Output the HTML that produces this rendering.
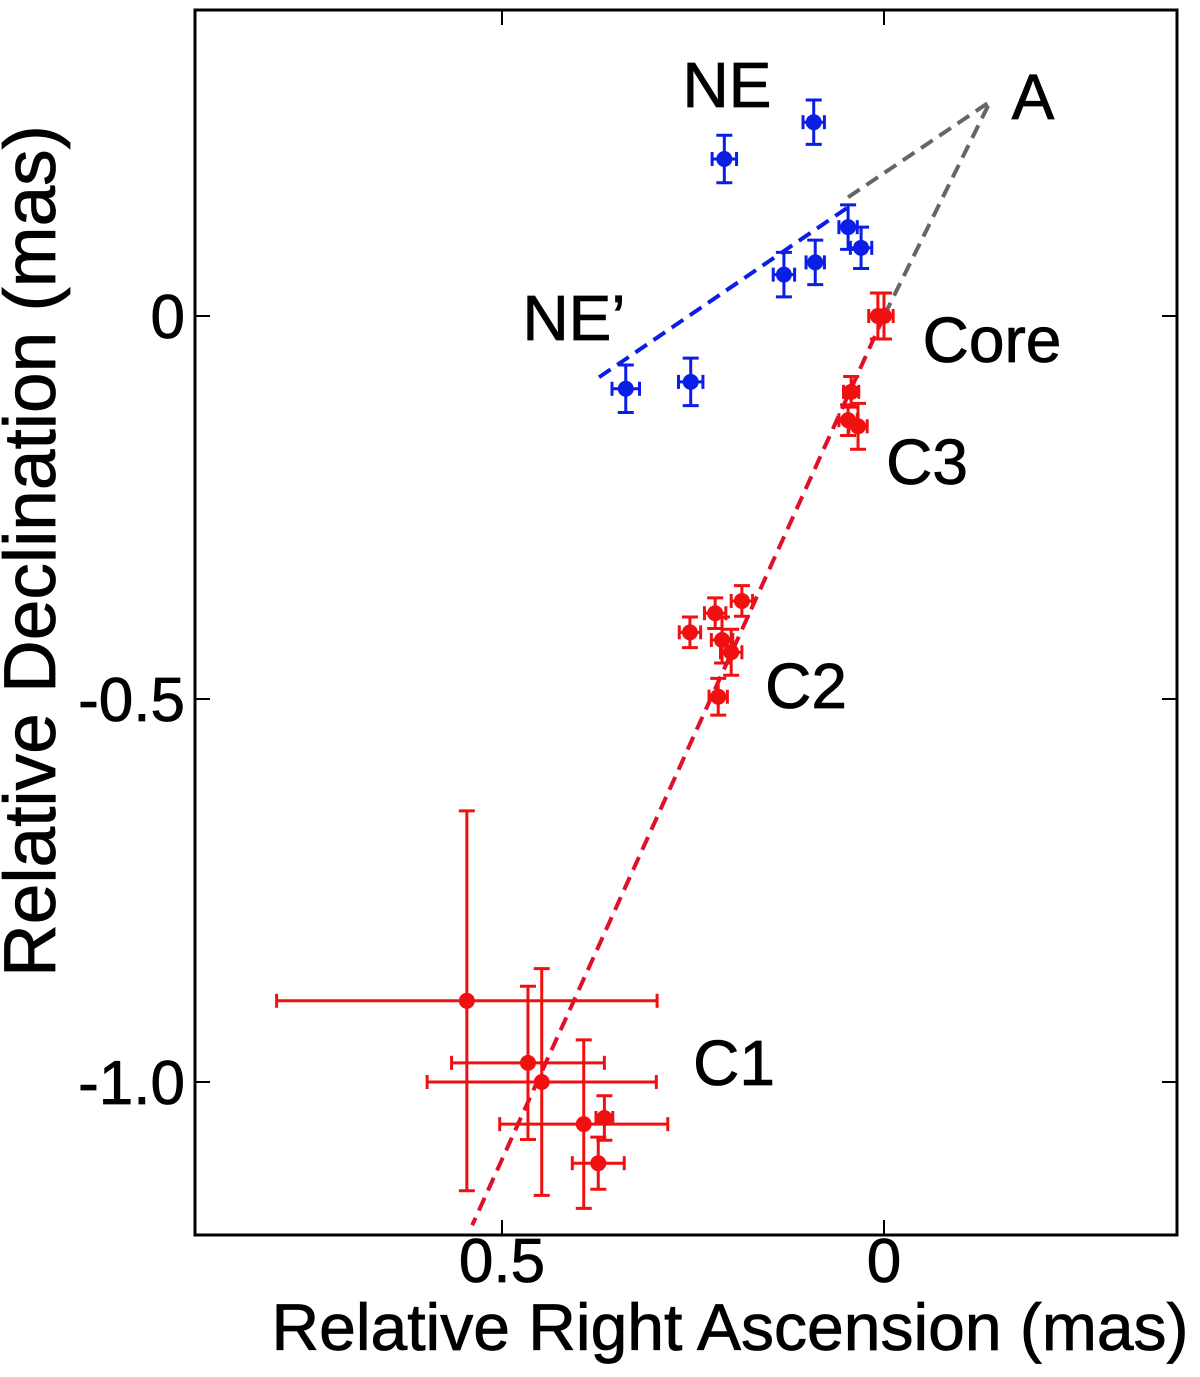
<!DOCTYPE html>
<html><head><meta charset="utf-8"><style>
html,body{margin:0;padding:0;background:#fff;}
svg{display:block;font-family:"Liberation Sans",Arial,sans-serif;}
</style></head><body>
<svg id="chart" width="1200" height="1377" viewBox="0 0 1200 1377">
<rect x="195" y="10" width="982" height="1225" fill="none" stroke="#000" stroke-width="3"/>
<g id="ticks"></g>
<g id="lines"></g>
<g id="marks"></g>
<g font-size="64" text-anchor="middle" stroke="#000" stroke-width="0.8">
<text x="727" y="107">NE</text>
<text x="1033" y="119">A</text>
<text x="574" y="340">NE’</text>
<text x="992" y="362">Core</text>
<text x="927" y="484">C3</text>
<text x="806" y="708">C2</text>
<text x="734" y="1085">C1</text>
<text x="730" y="1350" font-size="66">Relative Right Ascension (mas)</text>
<text transform="translate(55,551) rotate(-90)" font-size="73">Relative Declination (mas)</text>
</g>
</svg>
<script>
const xTicks = [0.5, 0];
const xTickLabels = ["0.5", "0"];
const yTicks = [0, -0.5, -1.0];
const yTickLabels = ["0", "-0.5", "-1.0"];
const blueRa  = [0.209, 0.092, 0.047, 0.030, 0.090, 0.131, 0.253, 0.338];
const blueDec = [0.205, 0.253, 0.116, 0.089, 0.070, 0.054, -0.086, -0.095];
const blueRaErr  = [0.016, 0.014, 0.012, 0.014, 0.012, 0.014, 0.016, 0.018];
const blueDecErr = [0.031, 0.029, 0.029, 0.027, 0.029, 0.029, 0.031, 0.031];
const redRa  = [0.0, 0.008, 0.043, 0.047, 0.034, 0.186, 0.221, 0.254, 0.212, 0.200, 0.217, 0.546, 0.466, 0.448, 0.393, 0.366, 0.374];
const redDec = [0.0, 0.0, -0.099, -0.136, -0.144, -0.372, -0.388, -0.413, -0.423, -0.439, -0.497, -0.894, -0.975, -1.0, -1.055, -1.047, -1.106];
const redRaErr  = [0.012, 0.012, 0.010, 0.012, 0.012, 0.014, 0.014, 0.014, 0.014, 0.014, 0.012, 0.249, 0.1, 0.15, 0.11, 0.011, 0.034];
const redDecErr = [0.03, 0.03, 0.02, 0.02, 0.03, 0.02, 0.02, 0.02, 0.03, 0.03, 0.024, 0.248, 0.1, 0.148, 0.11, 0.029, 0.034];
const redLineRa = [0.0, 0.539];
const redLineDec = [0.0, -1.187];
const blueLineRa = [0.373, 0.047];
const blueLineDec = [-0.08, 0.142];
const grayLineRa = [0.047, -0.139, 0.0];
const grayLineDec = [0.155, 0.280, 0.0];

const NS = "http://www.w3.org/2000/svg";
const X = ra => 884 - 764 * ra;
const Y = d => 316 - 766 * d;
function mk(tag, attrs, parent) {
  const e = document.createElementNS(NS, tag);
  for (const k in attrs) e.setAttribute(k, attrs[k]);
  parent.appendChild(e);
  return e;
}
const ticks = document.getElementById('ticks');
xTicks.forEach((t, i) => {
  const l1 = mk('line', {x1: X(t), x2: X(t), y1: 1235, y2: 1220, stroke: '#000', 'stroke-width': 2}, ticks);
  
  
  const l2 = mk('line', {x1: X(t), x2: X(t), y1: 10, y2: 25, stroke: '#000', 'stroke-width': 2}, ticks);
  
  
  const tx = mk('text', {x: X(t), y: 1282, 'font-size': 62, 'text-anchor': 'middle', stroke: '#000', 'stroke-width': 0.8}, ticks);
  tx.textContent = xTickLabels[i];
  
  
});
yTicks.forEach((t, i) => {
  const l1 = mk('line', {x1: 195, x2: 210, y1: Y(t), y2: Y(t), stroke: '#000', 'stroke-width': 2}, ticks);
  
  
  const l2 = mk('line', {x1: 1162, x2: 1177, y1: Y(t), y2: Y(t), stroke: '#000', 'stroke-width': 2}, ticks);
  
  
  const tx = mk('text', {x: 185, y: Y(t) + 22, 'font-size': 62, 'text-anchor': 'end', stroke: '#000', 'stroke-width': 0.8}, ticks);
  tx.textContent = yTickLabels[i];
  
  
});
const lines = document.getElementById('lines');
function dline(ras, decs, color, name) {
  const p = mk('polyline', {points: ras.map((r, i) => X(r) + ',' + Y(decs[i])).join(' '), fill: 'none', stroke: color, 'stroke-width': 4, 'stroke-dasharray': '14,8'}, lines);
  
  
}
dline(grayLineRa, grayLineDec, '#666', 'gray-fit-line');
dline(redLineRa, redLineDec, '#e0102a', 'red-fit-line');
dline(blueLineRa, blueLineDec, '#0a1ee6', 'blue-fit-line');
const marks = document.getElementById('marks');
function series(ra, dec, rae, dece, color, name) {
  ra.forEach((r, i) => {
    const g = mk('g', {stroke: color, 'stroke-width': 3, fill: color}, marks);
    
    
    const cx = X(r), cy = Y(dec[i]);
    const x1 = X(r + rae[i]), x2 = X(r - rae[i]);
    const y1 = Y(dec[i] + dece[i]), y2 = Y(dec[i] - dece[i]);
    mk('line', {x1: x1, x2: x2, y1: cy, y2: cy}, g);
    mk('line', {x1: cx, x2: cx, y1: y1, y2: y2}, g);
    mk('line', {x1: x1, x2: x1, y1: cy - 7, y2: cy + 7}, g);
    mk('line', {x1: x2, x2: x2, y1: cy - 7, y2: cy + 7}, g);
    mk('line', {x1: cx - 8, x2: cx + 8, y1: y1, y2: y1}, g);
    mk('line', {x1: cx - 8, x2: cx + 8, y1: y2, y2: y2}, g);
    mk('circle', {cx: cx, cy: cy, r: 8, stroke: 'none'}, g);
  });
}
series(blueRa, blueDec, blueRaErr, blueDecErr, '#0a1ee6', 'blue-point');
series(redRa, redDec, redRaErr, redDecErr, '#f01010', 'red-point');
</script>
</body></html>
